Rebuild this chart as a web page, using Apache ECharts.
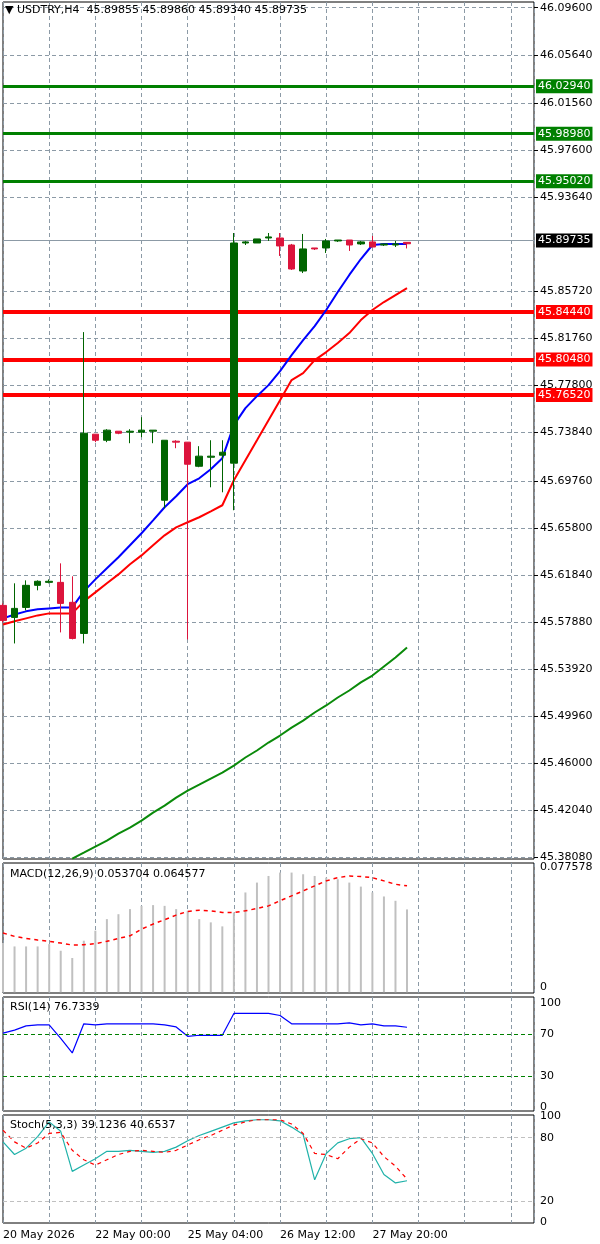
<!DOCTYPE html>
<html><head><meta charset="utf-8">
<script src="https://cdn.jsdelivr.net/npm/echarts@6/dist/echarts.min.js"></script>
<style>html,body{margin:0;padding:0;background:#fff}#c{width:600px;height:1244px}</style>
</head><body><div id="c"></div>
<script>
// ---- data ----
const dateLabels = ['20 May 2026','22 May 00:00','25 May 04:00','26 May 12:00','27 May 20:00'];
const nSlots = 47;
const opens  = [45.5930,45.5829,45.5913,45.6099,45.6124,45.6124,45.5956,45.5694,45.7371,45.7320,45.7396,45.7388,45.7388,45.7396,45.6815,45.7312,45.7304,45.7101,45.7177,45.7194,45.7127,45.8980,45.8980,45.9022,45.9022,45.8963,45.8744,45.8938,45.8938,45.8997,45.9005,45.8972,45.8989,45.8963,45.8963,45.89855];
const closes = [45.5804,45.5905,45.6099,45.6133,45.6133,45.5947,45.5652,45.7379,45.7320,45.7405,45.7379,45.7396,45.7405,45.7405,45.7320,45.7304,45.7118,45.7186,45.7186,45.7219,45.8980,45.8989,45.9014,45.9031,45.8955,45.8761,45.8930,45.8930,45.8997,45.9005,45.8963,45.8989,45.8946,45.8972,45.8972,45.89735];
const highs  = [45.5947,45.6116,45.6141,45.6141,45.6149,45.6284,45.6175,45.8230,45.7371,45.7413,45.7396,45.7413,45.7514,45.7405,45.7320,45.7320,45.7304,45.7270,45.7320,45.7320,45.9064,45.8997,45.9014,45.9064,45.9064,45.8972,45.9056,45.8938,45.9014,45.9005,45.9005,45.8997,45.9039,45.8972,45.8997,45.89860];
const lows   = [45.5787,45.5610,45.5888,45.6057,45.6116,45.5703,45.5644,45.5610,45.7304,45.7304,45.7371,45.7295,45.7346,45.7295,45.6748,45.7253,45.5644,45.7093,45.6924,45.6882,45.6731,45.8963,45.8980,45.8997,45.8871,45.8753,45.8727,45.8921,45.8896,45.8989,45.8913,45.8963,45.8946,45.8955,45.8946,45.89340];
const maBlue = [45.5821,45.5854,45.5880,45.5897,45.5905,45.5913,45.5913,45.6048,45.6149,45.6242,45.6335,45.6436,45.6537,45.6646,45.6756,45.6849,45.6950,45.7000,45.7076,45.7169,45.7447,45.7590,45.7691,45.7784,45.7902,45.8037,45.8163,45.8281,45.8416,45.8567,45.8711,45.8845,45.8963,45.8972,45.8972,45.8972];
const maRed  = [45.5770,45.5796,45.5821,45.5846,45.5863,45.5863,45.5863,45.5964,45.6040,45.6116,45.6191,45.6276,45.6351,45.6436,45.6520,45.6587,45.6630,45.6672,45.6722,45.6773,45.6983,45.7152,45.7320,45.7489,45.7657,45.7826,45.7885,45.7994,45.8062,45.8138,45.8222,45.8331,45.8416,45.8483,45.8542,45.8601];
const maGreen= [null,null,null,null,null,null,45.3799,45.3849,45.3900,45.3950,45.4009,45.4060,45.4119,45.4186,45.4245,45.4313,45.4372,45.4422,45.4473,45.4523,45.4582,45.4650,45.4709,45.4776,45.4835,45.4902,45.4961,45.5029,45.5088,45.5155,45.5214,45.5282,45.5340,45.5416,45.5492,45.5576];
const priceTicks = [46.0960,46.0564,46.0156,45.9760,45.9364,45.8572,45.8176,45.7780,45.7384,45.6976,45.6580,45.6184,45.5788,45.5392,45.4996,45.4600,45.4204,45.3808];
const greenLevels = [46.0294,45.9898,45.9502];
const redLevels = [45.8444,45.8048,45.7652];
const lastPrice = 45.89735;
const macdHist = [0.0319,0.0297,0.0297,0.0297,0.0312,0.0269,0.0222,0.0334,0.0399,0.0474,0.0506,0.0539,0.0560,0.0565,0.0560,0.0539,0.0528,0.0474,0.0453,0.0427,0.0517,0.0647,0.0711,0.0754,0.0776,0.0776,0.0765,0.0754,0.0743,0.0733,0.0711,0.0685,0.0647,0.0621,0.0593,0.0537];
const macdSignal = [0.0384,0.0362,0.0349,0.0338,0.0330,0.0319,0.0306,0.0308,0.0315,0.0330,0.0349,0.0366,0.0409,0.0442,0.0470,0.0500,0.0524,0.0532,0.0528,0.0517,0.0517,0.0528,0.0543,0.0560,0.0593,0.0625,0.0657,0.0690,0.0722,0.0743,0.0754,0.0750,0.0743,0.0722,0.0700,0.0690];
const macdTicks = [0, 0.077578];
const rsi = [71,74,78,79,79,66,52,80,79,80,80,80,80,80,79,77,68,69,69,69,90,90,90,90,88,80,80,80,80,80,81,79,80,78,78,76.7];
const rsiTicks = [100,70,30,0];
const stochMain = [76,64,70,81,95,86,48,54,60,67,67,68,67,66,67,71,77,82,86,90,94,96,97,97,96,90,83,40,65,75,79,80,65,45,37,39.1];
const stochSig  = [87,76,70,75,84,85,68,59,54,59,64,67,68,67,66,68,73,78,82,87,92,95,97,97,97,93,84,65,64,60,71,79,75,62,53,40.7];
const stochTicks = [100,80,20,0];

// ---- chart ----
const cats = Array.from({length:nSlots},(_,i)=>String(i));
const FONT = 'DejaVu Sans';
const gridColor = '#8c9aa6';
const grids = [
  {left:3,width:531,top:2,height:857},
  {left:3,width:531,top:863,height:130},
  {left:3,width:531,top:997,height:114},
  {left:3,width:531,top:1115,height:108}
].map(g=>Object.assign(g,{show:true,borderColor:'#000',borderWidth:1,backgroundColor:'#fff'}));
const xAxes = grids.map((g,i)=>({
  type:'category',gridIndex:i,data:cats,boundaryGap:false,
  axisLine:{show:false},axisTick:{show:false},
  splitLine:{show:true,interval:3,lineStyle:{color:gridColor,type:[4,3],width:1}},
  axisLabel:{show:i===3,interval:0,align:'left',margin:7,color:'#000',fontFamily:FONT,fontSize:11,
    formatter:(v,idx)=> (idx%8===0 && idx/8<dateLabels.length)? dateLabels[idx/8] : ''}
}));
const lab = {color:'#000',fontFamily:FONT,fontSize:11,margin:6};
const yAxes = [
  {type:'value',gridIndex:0,position:'right',min:45.3796,max:46.1008,
   axisLine:{show:false},axisTick:{show:true,customValues:priceTicks,length:4,lineStyle:{color:'#000'}},
   splitLine:{show:true,lineStyle:{color:gridColor,type:[4,3]}},
   axisLabel:Object.assign({customValues:priceTicks,formatter:v=>v.toFixed(5)},lab)},
  {type:'value',gridIndex:1,position:'right',min:-0.0005,max:0.0838,
   axisLine:{show:false},axisTick:{show:false},splitLine:{show:false},
   axisLabel:Object.assign({customValues:macdTicks,verticalAlign:'bottom',formatter:v=>v===0?'0':v.toFixed(6)},lab)},
  {type:'value',gridIndex:2,position:'right',min:-3.8,max:105.8,
   axisLine:{show:false},axisTick:{show:false},splitLine:{show:false},
   axisLabel:Object.assign({customValues:rsiTicks},lab)},
  {type:'value',gridIndex:3,position:'right',min:-1,max:101.5,
   axisLine:{show:false},axisTick:{show:false},splitLine:{show:false},
   axisLabel:Object.assign({customValues:stochTicks},lab)}
];
function levelLine(v,color,w,bg){
  return {yAxis:v,lineStyle:{color:color,width:w,type:'solid'},
    label:{show:true,position:'end',distance:2,formatter:()=>v.toFixed(5),color:'#fff',
      backgroundColor:bg,padding:[2,2,1,2],fontFamily:FONT,fontSize:11}};
}
const candleData = opens.map((o,i)=>[o,closes[i],lows[i],highs[i]]);
const option = {
  animation:false,
  grid:grids,xAxis:xAxes,yAxis:yAxes,
  title:[
    {text:'▼ USDTRY,H4  45.89855 45.89860 45.89340 45.89735',left:5,top:5},
    {text:'MACD(12,26,9) 0.053704 0.064577',left:10,top:869},
    {text:'RSI(14) 76.7339',left:10,top:1002},
    {text:'Stoch(5,3,3) 39.1236 40.6537',left:10,top:1120}
  ].map(t=>Object.assign(t,{padding:0,textStyle:{fontFamily:FONT,fontSize:11,fontWeight:'normal',color:'#000'}})),
  series:[
    {type:'line',xAxisIndex:0,yAxisIndex:0,data:maGreen,symbol:'none',lineStyle:{color:'#0a8a0a',width:2},z:3},
    {type:'line',xAxisIndex:0,yAxisIndex:0,data:maRed,symbol:'none',lineStyle:{color:'#ff0000',width:2},z:3},
    {type:'line',xAxisIndex:0,yAxisIndex:0,data:maBlue,symbol:'none',lineStyle:{color:'#0000ff',width:2},z:3},
    {type:'candlestick',xAxisIndex:0,yAxisIndex:0,data:candleData,barWidth:7,z:4,
     itemStyle:{color:'#006400',color0:'#dc143c',borderColor:'#006400',borderColor0:'#dc143c',borderWidth:1},
     markLine:{silent:true,symbol:'none',z:2,
       data:[
         ...greenLevels.map(v=>levelLine(v,'#008000',3,'#008000')),
         ...redLevels.map(v=>levelLine(v,'#ff0000',4,'#ff0000')),
         levelLine(lastPrice,'#8c9aa6',1,'#000')
       ]}},
    {type:'bar',xAxisIndex:1,yAxisIndex:1,data:macdHist,barWidth:2,itemStyle:{color:'#c0c0c0'}},
    {type:'line',xAxisIndex:1,yAxisIndex:1,data:macdSignal,symbol:'none',lineStyle:{color:'#ff0000',width:1.5,type:[4,4]}},
    {type:'line',xAxisIndex:2,yAxisIndex:2,data:rsi,symbol:'none',lineStyle:{color:'#0000ff',width:1.2},
     markLine:{silent:true,symbol:'none',label:{show:false},lineStyle:{color:'#008000',type:[4,3],width:1},data:[{yAxis:70},{yAxis:30}]}},
    {type:'line',xAxisIndex:3,yAxisIndex:3,data:stochMain,symbol:'none',lineStyle:{color:'#20b2aa',width:1.2},
     markLine:{silent:true,symbol:'none',label:{show:false},lineStyle:{color:'#c0c0c0',type:[4,3],width:1},data:[{yAxis:80},{yAxis:20}]}},
    {type:'line',xAxisIndex:3,yAxisIndex:3,data:stochSig,symbol:'none',lineStyle:{color:'#ff0000',width:1.2,type:[4,4]}}
  ]
};
echarts.init(document.getElementById('c')).setOption(option);
</script></body></html>
